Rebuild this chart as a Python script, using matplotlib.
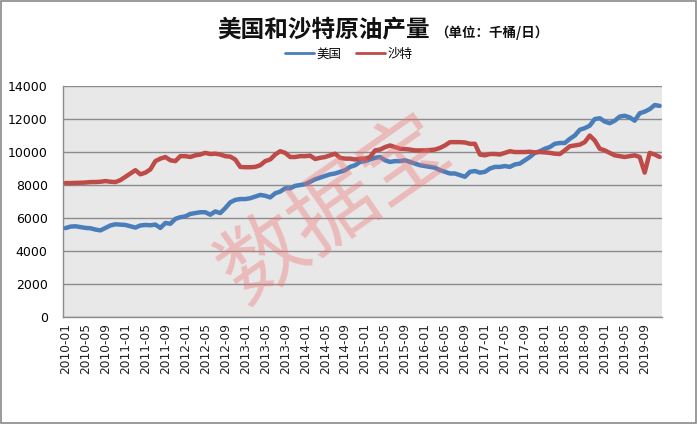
import numpy as np
import matplotlib
matplotlib.use("Agg")
from matplotlib import pyplot as plt
from matplotlib.patches import Rectangle

plt.rcParams['font.family'] = ['Noto Sans CJK SC', 'DejaVu Sans']

# DATA (thousand barrels per day, monthly 2010-01 .. 2019-12)
months = ["%d-%02d" % (y, m) for y in range(2010, 2020) for m in range(1, 13)]

usa = [5390, 5480, 5500, 5450, 5400, 5380, 5300, 5250, 5400, 5550, 5620, 5600,
       5580, 5500, 5420, 5550, 5580, 5560, 5600, 5400, 5700, 5650, 5950, 6050,
       6100, 6250, 6300, 6350, 6350, 6200, 6400, 6300, 6600, 6950, 7100, 7150,
       7150, 7200, 7300, 7400, 7350, 7250, 7500, 7600, 7800, 7800, 7950, 8000,
       8050, 8200, 8350, 8450, 8550, 8650, 8700, 8800, 8900, 9100, 9200, 9400,
       9450, 9550, 9650, 9700, 9500, 9400, 9450, 9450, 9500, 9400, 9300, 9200,
       9150, 9100, 9050, 8900, 8800, 8700, 8700, 8600, 8500, 8800, 8850, 8750,
       8800, 9000, 9100, 9100, 9150, 9100, 9250, 9300, 9500, 9700, 9950, 10050,
       10200, 10300, 10500, 10550, 10550, 10800, 11000, 11350, 11450, 11600, 12000, 12050,
       11850, 11750, 11900, 12150, 12200, 12100, 11900, 12350, 12450, 12600, 12850, 12800]

saudi = [8120, 8120, 8130, 8140, 8150, 8180, 8180, 8200, 8240, 8200, 8180, 8300,
         8500, 8700, 8900, 8650, 8750, 8950, 9450, 9600, 9700, 9500, 9450, 9750,
         9750, 9700, 9800, 9850, 9950, 9880, 9900, 9850, 9750, 9720, 9550, 9100,
         9080, 9080, 9100, 9200, 9450, 9550, 9850, 10050, 9950, 9700, 9700, 9750,
         9750, 9780, 9580, 9650, 9700, 9800, 9900, 9650, 9600, 9600, 9550, 9600,
         9600, 9700, 10100, 10150, 10300, 10400, 10300, 10200, 10180, 10150, 10100, 10100,
         10100, 10120, 10150, 10250, 10400, 10600, 10600, 10600, 10580, 10500, 10500, 9850,
         9800, 9880, 9880, 9850, 9950, 10050, 10000, 10000, 10000, 10020, 9980, 10000,
         9980, 9950, 9900, 9880, 10100, 10350, 10400, 10450, 10600, 11000, 10700, 10200,
         10100, 9950, 9800, 9750, 9700, 9750, 9800, 9700, 8750, 9950, 9850, 9700]

yticks = [0, 2000, 4000, 6000, 8000, 10000, 12000, 14000]

# PLOT
fig = plt.figure(figsize=(6.97, 4.24), dpi=100)
fig.patches.append(Rectangle((0.001, 0.002), 0.997, 0.995, transform=fig.transFigure,
                             fill=False, edgecolor="#8a8a8a", linewidth=1.2))

ax = fig.add_axes([0.0904, 0.2524, 0.8596, 0.5446])
ax.set_facecolor("#e8e8e8")

x = np.arange(len(months))
ax.plot(x, usa, color="#4a7ebb", linewidth=3.2, label="美国", solid_capstyle="round", zorder=3)
ax.plot(x, saudi, color="#be4b48", linewidth=3.2, label="沙特", solid_capstyle="round", zorder=3)

ax.set_xlim(-0.5, len(months) - 0.5)
ax.set_ylim(0, 14000)
ax.set_yticks(yticks)
ax.set_yticklabels([str(v) for v in yticks], fontsize=9, family="DejaVu Sans")
ax.yaxis.grid(True, color="#8c8c8c", linewidth=1)
ax.set_axisbelow(True)

tick_pos = x[::4]
ax.set_xticks(tick_pos)
ax.set_xticklabels([months[i] for i in tick_pos], rotation=90, fontsize=8.8,
                   family="DejaVu Sans", color="#222222")
ax.tick_params(axis="both", length=0)
ax.tick_params(axis="y", pad=11)
ax.tick_params(axis="x", pad=4)

for side in ["top", "right"]:
    ax.spines[side].set_visible(False)
for side in ["left", "bottom"]:
    ax.spines[side].set_color("#8c8c8c")
    ax.spines[side].set_linewidth(1)

# TITLE
fig.text(0.464, 0.929, "美国和沙特原油产量", fontsize=17, fontweight="bold",
         ha="center", va="center", color="#111111")
fig.text(0.705, 0.924, "（单位：千桶/日）", fontsize=9.7, fontweight="bold",
         ha="center", va="center", color="#111111")

# LEGEND
fig.legend(loc="center", bbox_to_anchor=(0.5, 0.872), ncol=2, frameon=False,
           fontsize=9, handlelength=2.3, handletextpad=0.2, columnspacing=1.2)
for line in fig.legends[0].get_lines():
    line.set_linewidth(2)

# WATERMARK
fig.text(0.482, 0.505, "数据宝", fontsize=62, fontweight="light", color="#f07070",
         alpha=0.38, rotation=35, ha="center", va="center", zorder=5)

fig.savefig("out.png", dpi=100)
